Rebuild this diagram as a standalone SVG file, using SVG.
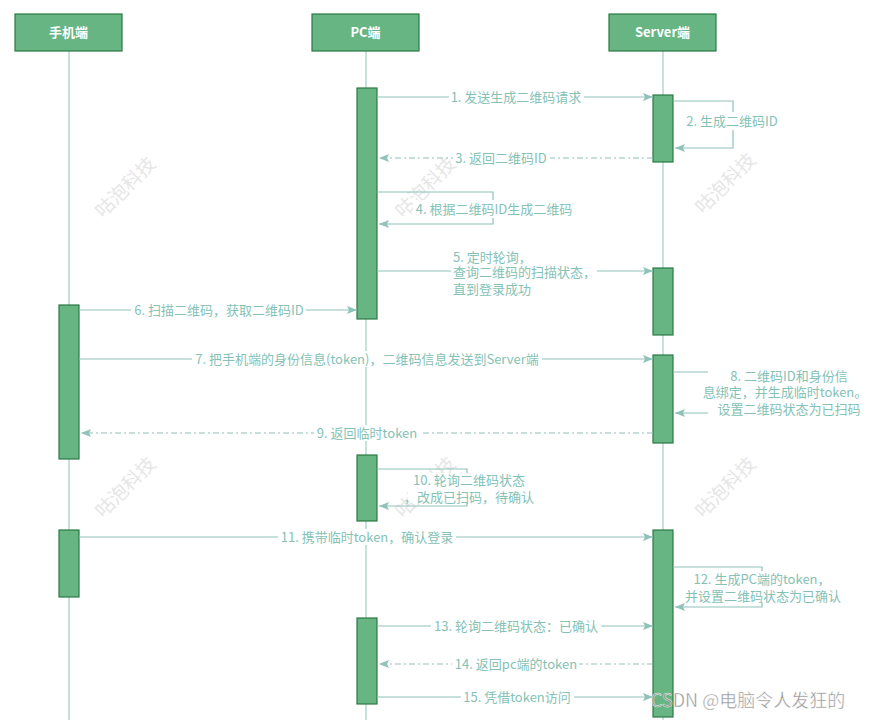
<svg xmlns="http://www.w3.org/2000/svg" width="877" height="720" viewBox="0 0 877 720">
<defs>
<style>
.hdr{fill:#66b583;stroke:#2b7a45;stroke-width:1.2}
.act{fill:#66b583;stroke:#2b7a45;stroke-width:1.2}
.ht{font-family:"Noto Sans CJK SC","Microsoft YaHei",sans-serif;font-size:13px;fill:#ffffff;text-anchor:middle;font-weight:bold}
.life{stroke:#8fc2b9;stroke-width:1;fill:none}
.msg{stroke:#8fc2b9;stroke-width:1.2;fill:none}
.ret{stroke:#8fc2b9;stroke-width:1.2;fill:none;stroke-dasharray:6 3 2 3}
.lb{font-family:"Noto Sans CJK SC","Microsoft YaHei",sans-serif;font-size:13px;fill:#84c2b5;text-anchor:middle}
.lbl{font-family:"Noto Sans CJK SC","Microsoft YaHei",sans-serif;font-size:13px;fill:#84c2b5}
.bg{fill:#ffffff}
.wm{font-family:"Noto Sans CJK SC",sans-serif;font-size:19px;fill:#e6e6e6;text-anchor:middle}
</style>
<marker id="ah" markerUnits="userSpaceOnUse" markerWidth="12" markerHeight="10" refX="10" refY="4" orient="auto">
<path d="M0,0 L10,4 L0,8 L2,4 z" fill="#8fc2b9"/>
</marker>
</defs>
<rect width="877" height="720" fill="#ffffff"/>
<g id="watermarks">
<text class="wm" transform="translate(130,192) rotate(-45)">咕泡科技</text>
<text class="wm" transform="translate(430,192) rotate(-45)">咕泡科技</text>
<text class="wm" transform="translate(730,188) rotate(-45)">咕泡科技</text>
<text class="wm" transform="translate(130,492) rotate(-45)">咕泡科技</text>
<text class="wm" transform="translate(430,492) rotate(-45)">咕泡科技</text>
<text class="wm" transform="translate(730,492) rotate(-45)">咕泡科技</text>
</g>
<g id="lifelines">
<line class="life" x1="69" y1="51" x2="69" y2="720"/>
<line class="life" x1="366" y1="51" x2="366" y2="720"/>
<line class="life" x1="663" y1="51" x2="663" y2="720"/>
</g>
<g id="node-phone">
<rect class="hdr" x="15" y="14" width="107" height="37"/>
<text class="ht" x="68.5" y="37">手机端</text>
</g>
<g id="node-pc">
<rect class="hdr" x="312" y="14" width="107" height="37"/>
<text class="ht" x="365.5" y="37">PC端</text>
</g>
<g id="node-server">
<rect class="hdr" x="609" y="14" width="107" height="37"/>
<text class="ht" x="662.5" y="37">Server端</text>
</g>
<g id="activations">
<rect class="act" x="357" y="88" width="20" height="231"/>
<rect class="act" x="653" y="95" width="20" height="67"/>
<rect class="act" x="653" y="268" width="20" height="67"/>
<rect class="act" x="59" y="305" width="20" height="154"/>
<rect class="act" x="653" y="355" width="20" height="88"/>
<rect class="act" x="357" y="455" width="20" height="66"/>
<rect class="act" x="59" y="530" width="20" height="67"/>
<rect class="act" x="653" y="530" width="20" height="187"/>
<rect class="act" x="357" y="618" width="20" height="86"/>
</g>
<g id="connectors">
<!-- 1 -->
<line class="msg" x1="377" y1="97" x2="653" y2="97" marker-end="url(#ah)"/>
<rect class="bg" x="449" y="89" width="135" height="16"/>
<text class="lb" x="516" y="101.5">1. 发送生成二维码请求</text>
<!-- 2 -->
<path class="msg" d="M673,101 H733 V148 H675" marker-end="url(#ah)"/>
<rect class="bg" x="685" y="112" width="96" height="18"/>
<text class="lb" x="732" y="125.5">2. 生成二维码ID</text>
<!-- 3 -->
<line class="ret" x1="653" y1="158" x2="379" y2="158" marker-end="url(#ah)"/>
<rect class="bg" x="453" y="150" width="97" height="16"/>
<text class="lb" x="501" y="162.5">3. 返回二维码ID</text>
<!-- 4 -->
<path class="msg" d="M377,192 H493 V224 H379" marker-end="url(#ah)"/>
<rect class="bg" x="413" y="200" width="162" height="18"/>
<text class="lb" x="494" y="213.5">4. 根据二维码ID生成二维码</text>
<!-- 5 -->
<line class="msg" x1="377" y1="271" x2="653" y2="271" marker-end="url(#ah)"/>
<rect class="bg" x="451" y="248" width="146" height="48"/>
<text class="lbl" x="453" y="261.5">5. 定时轮询，</text>
<text class="lbl" x="453" y="276.5">查询二维码的扫描状态，</text>
<text class="lbl" x="453" y="293.5">直到登录成功</text>
<!-- 6 -->
<line class="msg" x1="79" y1="310" x2="357" y2="310" marker-end="url(#ah)"/>
<rect class="bg" x="131" y="302" width="175" height="16"/>
<text class="lb" x="219" y="314.5">6. 扫描二维码，获取二维码ID</text>
<!-- 7 -->
<line class="msg" x1="79" y1="359" x2="653" y2="359" marker-end="url(#ah)"/>
<rect class="bg" x="192" y="351" width="350" height="16"/>
<text class="lb" x="367" y="363.5">7. 把手机端的身份信息(token)，二维码信息发送到Server端</text>
<!-- 8 -->
<line class="msg" x1="673" y1="372" x2="708" y2="372"/>
<line class="msg" x1="708" y1="413" x2="675" y2="413" marker-end="url(#ah)"/>
<text class="lb" x="789" y="381">8. 二维码ID和身份信</text>
<text class="lb" x="785" y="397">息绑定，并生成临时token。</text>
<text class="lb" x="789" y="414">设置二维码状态为已扫码</text>
<!-- 9 -->
<line class="ret" x1="653" y1="433" x2="81" y2="433" marker-end="url(#ah)"/>
<rect class="bg" x="314" y="425" width="106" height="16"/>
<text class="lb" x="367" y="437.5">9. 返回临时token</text>
<!-- 10 -->
<path class="msg" d="M377,469 H467 V506 H379" marker-end="url(#ah)"/>
<rect class="bg" x="408" y="473" width="127" height="30"/>
<text class="lb" x="469" y="484.5">10. 轮询二维码状态</text>
<text class="lb" x="469" y="501.5">，改成已扫码，待确认</text>
<!-- 11 -->
<line class="msg" x1="79" y1="537" x2="653" y2="537" marker-end="url(#ah)"/>
<rect class="bg" x="278" y="529" width="178" height="16"/>
<text class="lb" x="367" y="541.5">11. 携带临时token，确认登录</text>
<!-- 12 -->
<path class="msg" d="M673,567 H762 V607 H675" marker-end="url(#ah)"/>
<rect class="bg" x="683" y="571" width="160" height="31"/>
<text class="lb" x="762" y="583.5">12. 生成PC端的token，</text>
<text class="lb" x="763" y="600.5">并设置二维码状态为已确认</text>
<!-- 13 -->
<line class="msg" x1="377" y1="626" x2="653" y2="626" marker-end="url(#ah)"/>
<rect class="bg" x="431" y="618" width="170" height="16"/>
<text class="lb" x="516" y="630.5">13. 轮询二维码状态：已确认</text>
<!-- 14 -->
<line class="ret" x1="653" y1="664" x2="379" y2="664" marker-end="url(#ah)"/>
<rect class="bg" x="452" y="656" width="127" height="16"/>
<text class="lb" x="516" y="668.5">14. 返回pc端的token</text>
<!-- 15 -->
<line class="msg" x1="377" y1="697" x2="653" y2="697" marker-end="url(#ah)"/>
<rect class="bg" x="461" y="689" width="113" height="16"/>
<text class="lb" x="517" y="701.5">15. 凭借token访问</text>
</g>
<text x="651" y="707" font-family="'Noto Sans CJK SC',sans-serif" font-size="18" fill="#8a8a8a" stroke="#ffffff" stroke-width="0.4" opacity="0.9">CSDN @电脑令人发狂的</text>
</svg>
